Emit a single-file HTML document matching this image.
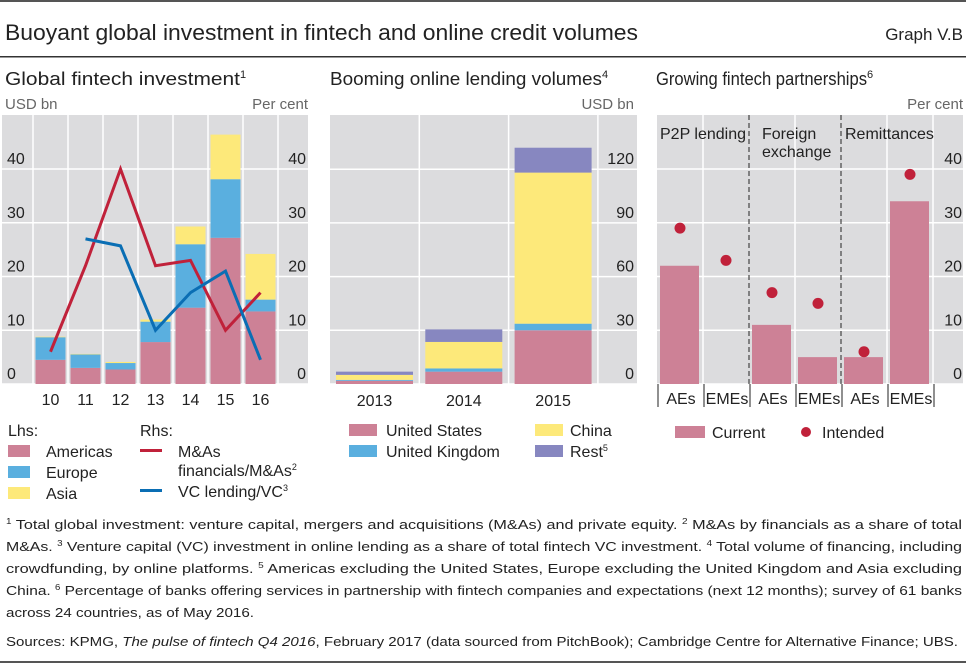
<!DOCTYPE html>
<html><head><meta charset="utf-8"><style>
body{margin:0;background:#fff;}
svg{display:block;font-family:"Liberation Sans",sans-serif;}
</style></head><body>
<svg id="s" width="966" height="665" viewBox="0 0 966 665" xmlns="http://www.w3.org/2000/svg">
<rect x="0" y="0" width="966" height="2" fill="#555"/>
<text x="5" y="40" font-size="22" fill="#222" textLength="633" lengthAdjust="spacingAndGlyphs">Buoyant global investment in fintech and online credit volumes</text>
<text x="963" y="40" font-size="17" fill="#222" text-anchor="end">Graph V.B</text>
<rect x="0" y="56" width="966" height="1.5" fill="#333"/>
<text x="5" y="85" font-size="18" fill="#222"><tspan textLength="235" lengthAdjust="spacingAndGlyphs">Global fintech investment</tspan><tspan font-size="11" dy="-7">1</tspan></text>
<text x="330" y="85" font-size="18" fill="#222"><tspan textLength="272" lengthAdjust="spacingAndGlyphs">Booming online lending volumes</tspan><tspan font-size="11" dy="-7">4</tspan></text>
<text x="656" y="85" font-size="18" fill="#222"><tspan textLength="211" lengthAdjust="spacingAndGlyphs">Growing fintech partnerships</tspan><tspan font-size="11" dy="-7">6</tspan></text>
<text x="5" y="109" font-size="15" fill="#666">USD bn</text>
<text x="308" y="109" font-size="15" fill="#666" text-anchor="end">Per cent</text>
<text x="634" y="109" font-size="15" fill="#666" text-anchor="end">USD bn</text>
<text x="963" y="109" font-size="15" fill="#666" text-anchor="end">Per cent</text>
<g id="g1"></g><g id="g2"></g><g id="g3"></g>
<g id="leg" font-size="16" fill="#222">
<text x="8" y="436">Lhs:</text>
<rect x="8" y="445" width="22" height="12" fill="#cd8196"/>
<text x="46" y="457">Americas</text>
<rect x="8" y="466" width="22" height="12" fill="#5aafdf"/>
<text x="46" y="478">Europe</text>
<rect x="8" y="487" width="22" height="12" fill="#fde97a"/>
<text x="46" y="499">Asia</text>
<text x="140" y="436">Rhs:</text>
<rect x="140" y="449" width="22" height="3" fill="#c0213a"/>
<text x="178" y="457">M&amp;As</text>
<text x="178" y="476">financials/M&amp;As<tspan font-size="9" dy="-6">2</tspan></text>
<rect x="140" y="489" width="22" height="3" fill="#0a6eb4"/>
<text x="178" y="497">VC lending/VC<tspan font-size="9" dy="-6">3</tspan></text>
<rect x="349" y="424" width="28" height="12" fill="#cd8196"/>
<text x="386" y="436">United States</text>
<rect x="349" y="445" width="28" height="12" fill="#5aafdf"/>
<text x="386" y="457">United Kingdom</text>
<rect x="535" y="424" width="28" height="12" fill="#fde97a"/>
<text x="570" y="436">China</text>
<rect x="535" y="445" width="28" height="12" fill="#8787c0"/>
<text x="570" y="457">Rest<tspan font-size="9" dy="-6">5</tspan></text>
<rect x="675" y="426" width="30" height="12" fill="#cd8196"/>
<text x="712" y="438">Current</text>
<circle cx="806" cy="432" r="5" fill="#c0213a"/>
<text x="822" y="438">Intended</text>
</g>
<g font-size="13" fill="#222">
<text x="6" y="529" textLength="956" lengthAdjust="spacingAndGlyphs"><tspan font-size="8" dy="-5">1</tspan><tspan dy="5">  Total global investment: venture capital, mergers and acquisitions (M&amp;As) and private equity.    </tspan><tspan font-size="8" dy="-5">2</tspan><tspan dy="5">  M&amp;As by financials as a share of total</tspan></text>
<text x="6" y="551" textLength="956" lengthAdjust="spacingAndGlyphs">M&amp;As.   <tspan font-size="8" dy="-5">3</tspan><tspan dy="5">  Venture capital (VC) investment in online lending as a share of total fintech VC investment.   </tspan><tspan font-size="8" dy="-5">4</tspan><tspan dy="5">  Total volume of financing, including</tspan></text>
<text x="6" y="573" textLength="956" lengthAdjust="spacingAndGlyphs">crowdfunding, by online platforms.    <tspan font-size="8" dy="-5">5</tspan><tspan dy="5">  Americas excluding the United States, Europe excluding the United Kingdom and Asia excluding</tspan></text>
<text x="6" y="595" textLength="956" lengthAdjust="spacingAndGlyphs">China.   <tspan font-size="8" dy="-5">6</tspan><tspan dy="5">  Percentage of banks offering services in partnership with fintech companies and expectations (next 12 months); survey of 61 banks</tspan></text>
<text x="6" y="617" textLength="248" lengthAdjust="spacingAndGlyphs">across 24 countries, as of May 2016.</text>
<text x="6" y="646" textLength="952" lengthAdjust="spacingAndGlyphs">Sources: KPMG, <tspan font-style="italic">The pulse of fintech Q4 2016</tspan>, February 2017 (data sourced from PitchBook); Cambridge Centre for Alternative Finance; UBS.</text>
</g>
<rect x="0" y="661" width="966" height="2" fill="#555"/>
</svg>
<script>
// ---- Panel 1 data ----
const years1 = ["10","11","12","13","14","15","16"];
const americas = [4.5, 3.0, 2.7, 7.8, 14.2, 27.2, 13.5];
const europe = [4.2, 2.5, 1.2, 3.8, 11.8, 10.9, 2.2];
const asia = [0.1, 0.1, 0.2, 0.4, 3.3, 8.3, 8.5];
const maShare = [6, 22, 40, 22, 23, 10, 17];
const vcShare = [null, 27, 25.7, 10, 17, 21, 4.5];
const ticks1 = [0, 10, 20, 30, 40];
// ---- Panel 2 data ----
const years2 = ["2013","2014","2015"];
const us = [1.8, 6.9, 30];
const uk = [0.5, 1.8, 3.7];
const china = [2.8, 14.8, 84.4];
const rest = [1.8, 7.0, 13.9];
const ticks2 = [0, 30, 60, 90, 120];
// ---- Panel 3 data ----
const groups3 = ["AEs","EMEs","AEs","EMEs","AEs","EMEs"];
const current = [22, 0, 11, 5, 5, 34];
const intended = [29, 23, 17, 15, 6, 39];
const ticks3 = [0, 10, 20, 30, 40];

const NS = "http://www.w3.org/2000/svg";
function mk(parent, tag, attrs){ const e=document.createElementNS(NS,tag); for(const k in attrs) e.setAttribute(k,attrs[k]); parent.appendChild(e); return e; }
const Y0 = 384;
const y1 = v => Y0 - v * 5.375;
const y2 = v => Y0 - v * 1.79;
const GRAY = "#dcdcde";

// Panel 1
(function(){
  const g = document.getElementById("g1");
  const bg = mk(g,"rect",{x:2,y:115,width:306,height:Y0-115,fill:GRAY});
  
  
  ticks1.forEach(t=>{
    const l = mk(g,"line",{x1:2,x2:308,y1:y1(t),y2:y1(t),stroke:"#fff","stroke-width":1.5});
    
    
    const a = mk(g,"text",{x:7,y:y1(t)-5,"font-size":16,fill:"#222"}); a.textContent=t;
    
    
    const b = mk(g,"text",{x:306,y:y1(t)-5,"font-size":16,fill:"#222","text-anchor":"end"}); b.textContent=t;
    
    
  });
  const bx = i => 33 + 35*i;
  for(let i=0;i<=7;i++){
    const l = mk(g,"line",{x1:bx(i),x2:bx(i),y1:115,y2:Y0,stroke:"#fff","stroke-width":1.5});
    
    
  }
  const cx = i => bx(i) + 17.5;
  years1.forEach((yr,i)=>{
    let base=0;
    [[americas,"#cd8196","americas"],[europe,"#5aafdf","europe"],[asia,"#fde97a","asia"]].forEach(([arr,c,n])=>{
      const v=arr[i];
      const r = mk(g,"rect",{x:cx(i)-15,y:y1(base+v),width:30,height:y1(base)-y1(base+v),fill:c});
      
      
      base+=v;
    });
    const t = mk(g,"text",{x:cx(i),y:405,"font-size":16,fill:"#222","text-anchor":"middle"}); t.textContent=yr;
    
    
  });
  const line = (arr,c,n)=>{
    const pts = arr.map((v,i)=> v==null?null:cx(i)+","+y1(v)).filter(p=>p).join(" ");
    const p = mk(g,"polyline",{points:pts,fill:"none",stroke:c,"stroke-width":3,"stroke-linejoin":"miter"});
    
    
  };
  line(maShare,"#c0213a","ma-share-line");
  line(vcShare,"#0a6eb4","vc-share-line");
})();

// Panel 2
(function(){
  const g = document.getElementById("g2");
  const bg = mk(g,"rect",{x:330,y:115,width:307,height:Y0-115,fill:GRAY});
  
  
  ticks2.forEach(t=>{
    const l = mk(g,"line",{x1:330,x2:637,y1:y2(t),y2:y2(t),stroke:"#fff","stroke-width":1.5});
    
    
    const b = mk(g,"text",{x:634,y:y2(t)-5,"font-size":16,fill:"#222","text-anchor":"end"}); b.textContent=t;
    
    
  });
  const bx = i => 330 + 89.3*i;
  for(let i=1;i<=3;i++){
    const l = mk(g,"line",{x1:bx(i),x2:bx(i),y1:115,y2:Y0,stroke:"#fff","stroke-width":1.5});
    
    
  }
  years2.forEach((yr,i)=>{
    let base=0;
    [[us,"#cd8196","us"],[uk,"#5aafdf","uk"],[china,"#fde97a","china"],[rest,"#8787c0","rest"]].forEach(([arr,c,n])=>{
      const v=arr[i];
      const r = mk(g,"rect",{x:bx(i)+6,y:y2(base+v),width:77,height:y2(base)-y2(base+v),fill:c});
      
      
      base+=v;
    });
    const t = mk(g,"text",{x:bx(i)+44.5,y:406,"font-size":16,fill:"#222","text-anchor":"middle"}); t.textContent=yr;
    
    
  });
})();

// Panel 3
(function(){
  const g = document.getElementById("g3");
  const bg = mk(g,"rect",{x:657,y:115,width:306,height:Y0-115,fill:GRAY});
  
  
  ticks3.forEach(t=>{
    const l = mk(g,"line",{x1:657,x2:963,y1:y1(t),y2:y1(t),stroke:"#fff","stroke-width":1.5});
    
    
    const b = mk(g,"text",{x:962,y:y1(t)-5,"font-size":16,fill:"#222","text-anchor":"end"}); b.textContent=t;
    
    
  });
  const bx = i => 657 + 46*i;
  for(let i=1;i<=6;i++){
    const dashed = (i===2||i===4);
    const l = mk(g,"line",{x1:bx(i),x2:bx(i),y1:115,y2:Y0,stroke:dashed?"#444":"#fff","stroke-width":dashed?1.2:1.5,"stroke-dasharray":dashed?"5,3":"none"});
    
    
  }
  for(let i=0;i<=6;i++){
    const l = mk(g,"line",{x1:bx(i)+1,x2:bx(i)+1,y1:Y0,y2:407,stroke:"#222","stroke-width":1});
    
    
  }
  groups3.forEach((gr,i)=>{
    if(current[i]>0){
      const r = mk(g,"rect",{x:bx(i)+3,y:y1(current[i]),width:39,height:Y0-y1(current[i]),fill:"#cd8196"});
      
      
    }
    const c = mk(g,"circle",{cx:bx(i)+23,cy:y1(intended[i]),r:5.5,fill:"#c0213a"});
    
    
    const t = mk(g,"text",{x:bx(i)+24,y:404,"font-size":16,fill:"#222","text-anchor":"middle"}); t.textContent=gr;
    
    
  });
  [["P2P lending",660,139],["Foreign",762,139],["exchange",762,157],["Remittances",845,139]].forEach(([s,x,y])=>{
    const t = mk(g,"text",{x:x,y:y,"font-size":16,fill:"#222"}); t.textContent=s;
    
    
  });
})();
</script>
</body></html>
